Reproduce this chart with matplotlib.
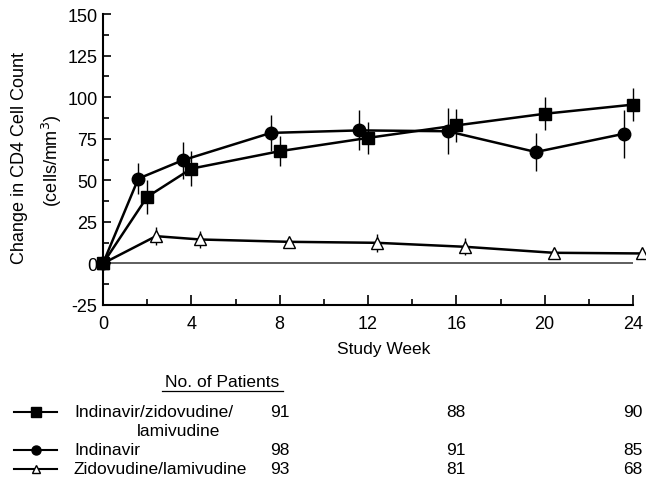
import matplotlib
matplotlib.use('Agg')
import matplotlib.pyplot as plt
import matplotlib.transforms as mtransforms
from matplotlib.lines import Line2D

plt.rcParams['font.family'] = ['Liberation Sans', 'DejaVu Sans']
plt.rcParams['axes.unicode_minus'] = False

# dados (semana do estudo x variacao de CD4)
weeks_triple = [0, 2, 4, 8, 12, 16, 20, 24]
cd4_triple = [0, 40, 57, 67.5, 75.5, 83, 90, 95.5]
err_triple = [0, 10, 10.5, 9, 9.7, 10, 10, 9.7]

weeks_ind = [0, 1.6, 3.6, 7.6, 11.6, 15.6, 19.6, 23.6]
cd4_ind = [0, 51, 62, 78.5, 80, 79.5, 67, 78]
err_ind = [0, 9.5, 11, 11, 12, 13.7, 11.5, 14.3]

weeks_zl = [0, 2.4, 4.4, 8.4, 12.4, 16.4, 20.4, 24.4]
cd4_zl = [0, 16.4, 14.4, 13, 12.4, 10, 6.4, 6]
err_zl = [0, 5.3, 5, 2.5, 5.5, 5, 3, 3.5]

series_names = ['Indinavir/zidovudine/', 'Indinavir', 'Zidovudine/lamivudine']
patient_weeks = [8, 16, 24]
patients_triple = [91, 88, 90]
patients_ind = [98, 91, 85]
patients_zl = [93, 81, 68]

W, H = 646, 485
FS = 12.5
fig = plt.figure(figsize=(6.46, 4.85), dpi=100)
ax = fig.add_axes([103 / W, 1 - 306 / H, 530 / W, 291 / H])

ax.plot([0, 24], [0, 0], color='#333333', lw=1.1, zorder=1)

style = dict(color='black', lw=1.8, capsize=0, elinewidth=1.0, ecolor='black', clip_on=False)
ax.errorbar(weeks_zl, cd4_zl, yerr=err_zl, marker='^', ms=8, mfc='white', mec='black', mew=1.0, zorder=3, **style)
ax.errorbar(weeks_ind, cd4_ind, yerr=err_ind, marker='o', ms=9, mfc='black', zorder=4, **style)
ax.errorbar(weeks_triple, cd4_triple, yerr=err_triple, marker='s', ms=9, mfc='black', zorder=5, **style)

ax.set_xlim(0, 24)
ax.set_ylim(-25, 150)
ax.set_xticks(range(0, 25, 4))
ax.set_xticks(range(2, 25, 4), minor=True)
ax.set_yticks(range(-25, 151, 25))
ax.set_yticks([-12.5 + 25 * i for i in range(7)], minor=True)
ax.tick_params(which='both', direction='in', labelsize=13, width=1.2)
ax.tick_params(axis='x', which='major', length=7, pad=7)
ax.tick_params(axis='x', which='minor', length=4)
ax.tick_params(axis='y', which='major', length=6, pad=4)
ax.tick_params(axis='y', which='minor', length=4)
for s in ['top', 'right']:
    ax.spines[s].set_visible(False)
for s in ['left', 'bottom']:
    ax.spines[s].set_linewidth(1.5)

fig.text(384 / W, 1 - 350 / H, 'Study Week', fontsize=FS, ha='center', va='center')
fig.text(19.5 / W, 1 - 158 / H, 'Change in CD4 Cell Count', fontsize=13,
         rotation=90, ha='center', va='center')
fig.text(52 / W, 1 - 161 / H, '(cells/mm$^3$)', fontsize=13,
         rotation=90, ha='center', va='center')

# tabela de pacientes embaixo
fig.text(222.5 / W, 1 - 383 / H, 'No. of Patients', fontsize=FS, ha='center', va='center')
fig.lines.append(Line2D([162 / W, 283 / W], [1 - 392 / H, 1 - 392 / H],
                        transform=fig.transFigure, color='black', lw=0.9))

row_y = [413, 451, 470]
markers = [dict(marker='s', mfc='black', ms=6.5),
           dict(marker='o', mfc='black', ms=6.5),
           dict(marker='^', mfc='white', ms=6, mew=1.0)]
counts = [patients_triple, patients_ind, patients_zl]
trans = mtransforms.blended_transform_factory(ax.transData, fig.transFigure)
for y, name, mk, cnt in zip(row_y, series_names, markers, counts):
    yf = 1 - y / H
    fig.lines.append(Line2D([14 / W, 57 / W], [yf, yf], transform=fig.transFigure,
                            color='black', lw=1.5))
    fig.lines.append(Line2D([35.5 / W], [yf], transform=fig.transFigure,
                            color='black', lw=0, mec='black', **mk))
    fig.text(74 / W, yf, name, fontsize=FS, ha='left', va='center')
    for wk, c in zip(patient_weeks, cnt):
        ax.text(wk, yf, str(c), fontsize=FS, ha='center', va='center', transform=trans)
fig.text(137 / W, 1 - 432 / H, 'lamivudine', fontsize=FS, ha='left', va='center')

fig.savefig('out.png', dpi=100)
